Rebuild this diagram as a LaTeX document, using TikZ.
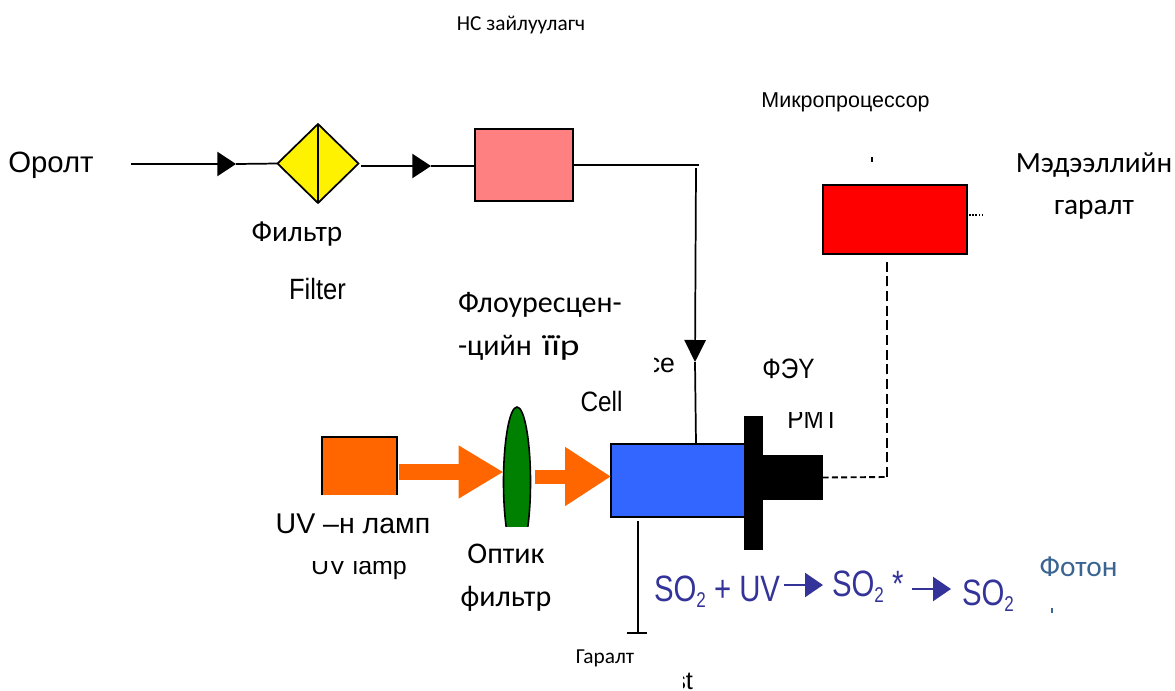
\documentclass[tikz,border=0pt]{standalone}
\usepackage{fontspec}
\setmainfont{Liberation Sans}
\newfontfamily\calfam{Carlito}
\usetikzlibrary{arrows.meta,shapes.geometric}
\def\pxu{0.75pt}
\newcommand{\sotwo}{SO\raisebox{-5pt}{\fontsize{16}{16}\selectfont 2}}
\definecolor{pinkbox}{HTML}{FF8080}
\definecolor{orangeb}{HTML}{FF6600}
\definecolor{blueb}{HTML}{3366FF}
\definecolor{greenb}{HTML}{008000}
\definecolor{indigo}{HTML}{333399}
\definecolor{steel}{HTML}{3A6491}
\tikzset{
  x=0.75pt,y=-0.75pt,
  sized/.style 2 args={minimum width=#1*\pxu,minimum height=#2*\pxu,inner sep=0pt,outer sep=0pt},
  boxed/.style={rectangle,draw=black,line width=1.5pt},
  lab/.style={inner sep=0pt,outer sep=0pt,anchor=base,text=black},
  sansA/.style={lab,font=\fontsize{#1}{#1}\selectfont},
  narrowA/.style={lab,xscale=.87,font=\fontsize{#1}{#1}\selectfont},
  calb/.style={lab,font=\calfam\fontsize{#1}{#1}\selectfont},
  chem/.style={lab,anchor=base west,text=indigo,xscale=.8,font=\fontsize{27.5}{27.5}\selectfont},
  wire/.style={line width=1.3pt,black},
  heavy/.style={line width=1.8pt,black},
  midtip/.style={-{Triangle[length=14pt,width=18pt]}},
  droptipstyle/.style={-{Triangle[length=16.5pt,width=16pt]}},
  beam/.style 2 args={orangeb,-{Triangle[length=#1*\pxu,width=#2*\pxu]}},
  reacttip/.style={indigo,line width=1.8pt,-{Triangle[length=13.5pt,width=18pt]}},
}
\begin{document}
\begin{tikzpicture}
\useasboundingbox (0,0) rectangle (1175,690);

% upper line nodes
\coordinate (inlet) at (131,164);
\coordinate (inthick) at (236,164);
\node[diamond,aspect=1,sized={81}{79},draw=black,fill=yellow,line width=1.3pt] (filter) at (318,163.5) {};
\draw[line width=1.3pt] (filter.north) -- (filter.south);
\node[boxed,sized={98}{72},fill=pinkbox] (ns) at (524,165) {};
\coordinate (filterout) at (361,166);
\coordinate (tip2) at (431,166);
\coordinate (corner) at (699,165);
\coordinate (dropstart) at (696,168);
\coordinate (droptip) at (695,362);

% cell and PMT
\node[boxed,sized={134}{73},fill=blueb] (cell) at (678,480.5) {};
\coordinate (celltop) at (696,444);
\coordinate (outstart) at (638,521);
\coordinate (outend) at (638,633);
\coordinate (barL) at (627,633);
\coordinate (barR) at (647,633);
\node[rectangle,fill=black,sized={19}{134}] (flange) at (753.5,483) {};
\node[rectangle,fill=black,sized={60}{45}] (pmt) at (792.5,477.5) {};
\node[boxed,sized={144}{69},fill=red] (micro) at (895,219.5) {};
\coordinate (dashturn) at (887,477);
\coordinate (dashtop) at (887,260);

% connectors, top
\draw[wire] (inlet) -- (165,164);
\draw[heavy,midtip] (165,164) -- (inthick);
\draw[wire] (inthick) -- (filter.west);
\draw[heavy,midtip] (filterout) -- (tip2);
\draw[wire] (tip2) -- (ns.west |- tip2);
\draw[wire] (ns.east |- corner) -- (corner);
\draw[wire,droptipstyle] (dropstart) -- (droptip);
\draw[wire] (droptip) -- (celltop);
\draw[wire] (outstart) -- (outend);
\draw[wire] (barL) -- (barR);
\draw[line width=1.4pt,dash pattern=on 4.5pt off 2.5pt] (pmt.east) -- (dashturn);
\draw[line width=1.4pt,dash pattern=on 7.5pt off 3.5pt] (dashturn) -- (dashtop);
\draw[line width=1pt,dash pattern=on 1.2pt off 1.2pt] (969,215) -- (983,215);
\draw[line width=1.2pt] (872,157) -- (872,162);

% lamp, clipped at the bottom
\node[rectangle,fill=orangeb,sized={75}{58}] (lamp) at (359.5,466) {};
\draw[line width=1.5pt] (lamp.south west) -- (lamp.north west) -- (lamp.north east) -- (lamp.south east);

% lens, clipped at the bottom
\begin{scope}
\clip (490,400) rectangle (545,526);
\node[ellipse,sized={27}{150},draw=black,fill=greenb,line width=1.2pt] (lens) at (517,482) {};
\end{scope}

% beams
\coordinate (b1s) at (399,472);
\coordinate (b1e) at (503.5,472);
\coordinate (b2s) at (535,476.5);
\coordinate (b2e) at (611,476.5);
\draw[beam={45}{50},line width=12pt] (b1s) -- (b1e);
\draw[beam={46}{56},line width=10.5pt] (b2s) -- (b2e);

% labels
\node[calb=16] (t1) at (521,30.5) {НС зайлуулагч};
\node[sansA=16.1] (t2) at (845.5,107) {Микропроцессор};
\node[sansA=22] (t3) at (51,172) {Оролт};
\node[calb=22] (t4) at (297,241) {Фильтр};
\node[narrowA=22] (t5) at (317.5,299) {Filter};
\node[calb=22.5,anchor=base west] (t6) at (458,312) {Флоуресцен-};
\node[calb=22.5,anchor=base west] (t7) at (458,355) {-цийн\hspace{3pt} \scalebox{1.25}[1]{їїр}};
\node[narrowA=21] (t8) at (601.5,411) {Cell};
\node[narrowA=21] (t9) at (788.5,378) {ФЭY};
\node[sansA=21.4] (t10) at (353,533) {UV –н ламп};
\node[calb=22.5] (t11) at (506,563) {Оптик};
\node[calb=22.5] (t12) at (506,606) {фильтр};
\node[calb=16] (t13) at (605,663) {Гаралт};
\node[calb=22] (t14) at (1094,172) {Мэдээллийн};
\node[calb=22] (t15) at (1094,214) {гаралт};
\node[lab,text=steel,font=\calfam\fontsize{22}{22}\selectfont] (t16) at (1078.5,576) {Фотон};
\draw[steel,line width=1.5pt] (1052,608) -- (1052,613);

% clipped labels
\begin{scope}
\clip (654,340) rectangle (690,400);
\node[sansA=20,anchor=base east] (t17) at (675,372) {ce};
\end{scope}
\begin{scope}
\clip (780,412) rectangle (845,427.5);
\node[narrowA=21] (t18) at (813,428.5) {PMT};
\end{scope}
\begin{scope}
\clip (300,561) rectangle (420,590);
\node[sansA=18.7] (t19) at (359,574) {UV lamp};
\end{scope}
\begin{scope}
\clip (683.5,660) rectangle (720,690);
\node[sansA=19,anchor=base east] (t20) at (693,689) {st};
\end{scope}

% reaction
\node[chem] (r1) at (654,601) {\sotwo{} + UV};
\coordinate (a1s) at (784,585);
\coordinate (a1e) at (823,585);
\draw[reacttip] (a1s) -- (a1e);
\node[chem] (r2) at (832,596) {\sotwo{} *};
\coordinate (a2s) at (912,589);
\coordinate (a2e) at (951,589);
\draw[reacttip] (a2s) -- (a2e);
\node[chem] (r3) at (962,605) {\sotwo};
\end{tikzpicture}
\end{document}
